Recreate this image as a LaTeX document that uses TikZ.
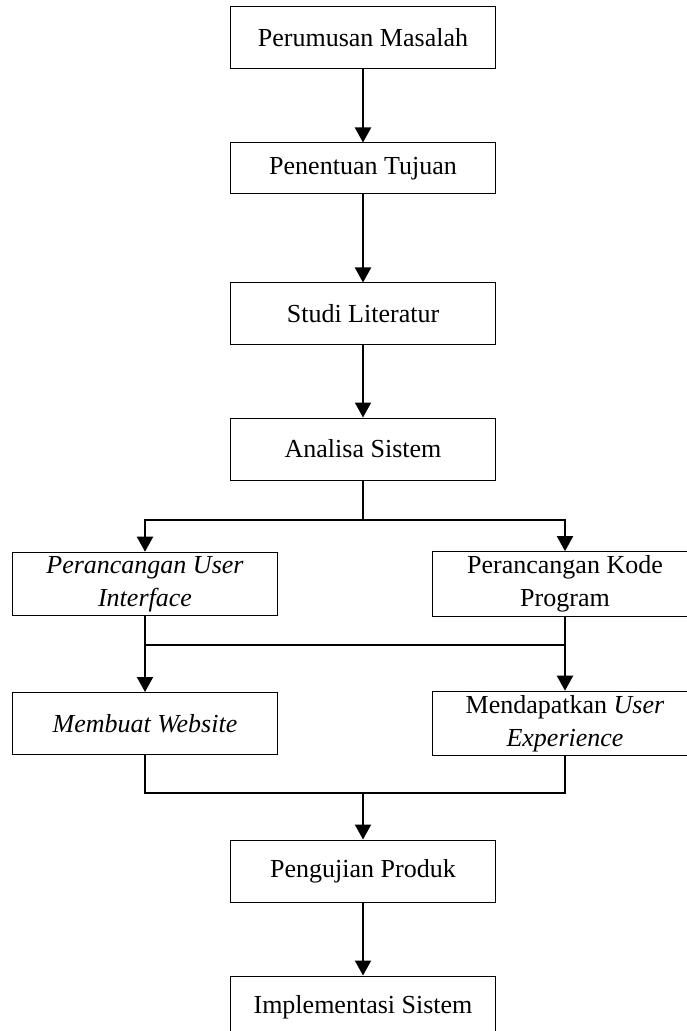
\documentclass[tikz,border=0pt]{standalone}
\usepackage{fontspec}
\setmainfont{Liberation Serif}
\usepackage{tikz}
\usetikzlibrary{arrows.meta,positioning,calc}
\tikzset{
  box/.style={draw,line width=0.5pt,align=center,font=\fontsize{13}{16.5}\selectfont,minimum width=132.5pt,inner sep=2pt},
  hi/.style={minimum height=31pt},
  lo/.style={minimum height=25.5pt},
  arr/.style={-{Triangle[length=7.5pt,width=8pt]},line width=1pt},
  conn/.style={line width=1pt}
}
\begin{document}
\begin{tikzpicture}[x=0.5pt,y=-0.5pt]
\useasboundingbox (0,0) rectangle (686,1031);
\node[box,hi] (rumus) at (363,38) {Perumusan Masalah};
\node[box,lo] (tujuan) at (363,168.5) {Penentuan Tujuan};
\node[box,hi] (studi) at (363,314) {Studi Literatur};
\node[box,hi] (analisa) at (363,449) {Analisa Sistem};
\node[box,hi] (ui) at (145,584) {\textit{Perancangan User}\\\textit{Interface}};
\node[box,hi] (kode) at (565,584) {Perancangan Kode\\Program};
\node[box,hi] (web) at (145,723.5) {\textit{Membuat Website}};
\node[box,hi] (ux) at (565,723.5) {Mendapatkan \textit{User}\\\textit{Experience}};
\node[box,hi] (uji) at (363,871) {Pengujian Produk};
\node[box,hi] (impl) at (363,1007) {Implementasi Sistem};
\coordinate (j1) at (145,645);
\coordinate (j2) at (565,645);
\coordinate (j3) at (363,793);
\draw[arr] (rumus) -- (tujuan);
\draw[arr] (tujuan) -- (studi);
\draw[arr] (studi) -- (analisa);
\draw[arr] (analisa.south) -- ++(0,39) -| (ui.north);
\draw[arr] (analisa.south) -- ++(0,39) -| (kode.north);
\draw[arr] (ui) -- (web);
\draw[arr] (kode) -- (ux);
\draw[conn] (j1) -- (j2);
\draw[conn] (web.south) |- (j3) -| (ux.south);
\draw[arr] (j3) -- (uji);
\draw[arr] (uji) -- (impl);
\end{tikzpicture}
\end{document}
